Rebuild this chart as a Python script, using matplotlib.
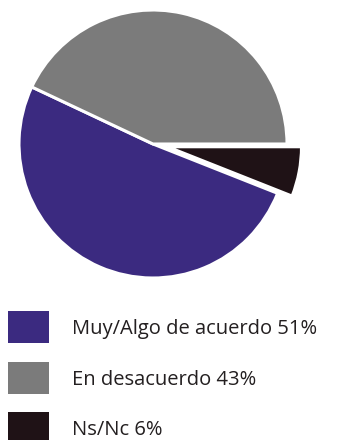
import matplotlib
matplotlib.use("Agg")
import matplotlib.pyplot as plt
from matplotlib.patches import Rectangle

labels = ["Muy/Algo de acuerdo", "En desacuerdo", "Ns/Nc"]
values = [51, 43, 6]
colors = ["#3b2a80", "#7b7b7b", "#1f1216"]
explode = [0, 0, 0.11]

plt.rcParams['font.family'] = ['Open Sans', 'DejaVu Sans']

W, H = 339, 440
fig = plt.figure(figsize=(W / 100, H / 100), dpi=100)

# pie axes: center (153,144) px, radius 134 px, limits +-1.15
cx, cy, R, L = 153, 144, 134, 1.15
half = R * L
ax = fig.add_axes([(cx - half) / W, (H - cy - half) / H, 2 * half / W, 2 * half / H])
total = sum(values)
start = -values[2] / total * 360
wedges, _ = ax.pie(values, colors=colors, explode=explode, startangle=start,
                   counterclock=False,
                   wedgeprops=dict(edgecolor="white", linewidth=2.2))
ax.set_xlim(-L, L)
ax.set_ylim(-L, L)
ax.set_aspect("equal")
ax.axis("off")

# legend
y_tops = [311, 362, 412]
baselines = [334, 385, 435]
for lab, v, c, yt, yb in zip(labels, values, colors, y_tops, baselines):
    fig.add_artist(Rectangle((8 / W, 1 - (yt + 32) / H), 41 / W, 32 / H,
                             transform=fig.transFigure, facecolor=c, edgecolor="none"))
    fig.text(72 / W, 1 - yb / H, f"{lab} {v}%", fontsize=14.5,
             color="#231f20", va="baseline", ha="left")

fig.savefig("out.png", dpi=100, facecolor="white")
